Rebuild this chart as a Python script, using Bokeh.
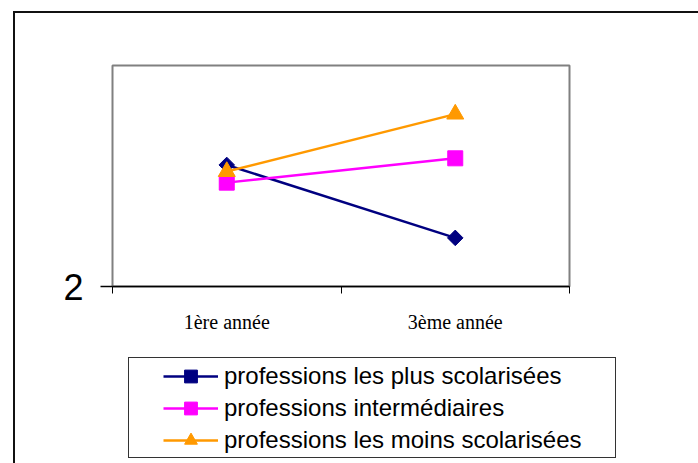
import numpy as np
from bokeh.plotting import figure
from bokeh.layouts import column
from bokeh.models import FixedTicker, Range1d, Legend, LegendItem, InlineStyleSheet
from bokeh.embed import file_html
from bokeh.resources import INLINE

categories = ["1ère année", "3ème année"]
x_pos = [0.5, 1.5]
x_bounds = [0, 1, 2]
series_names = ["professions les plus scolarisées",
                "professions intermédiaires",
                "professions les moins scolarisées"]
plus = [2.55, 2.22]
inter = [2.47, 2.58]
moins = [2.52, 2.78]
y_ticks = [2]
colors = ["#000080", "#FF00FF", "#FF9900"]

css = """
:host::before {
  content: ""; position: absolute; left: 13px; top: 11px;
  width: 685px; height: 452px; box-sizing: border-box;
  border-left: 2px solid #111; border-top: 2px solid #111;
  pointer-events: none; z-index: 5;
}
:host::after {
  content: ""; position: absolute; left: 128px; top: 357px;
  width: 488px; height: 101px; box-sizing: border-box;
  border: 1px solid #333;
  pointer-events: none; z-index: 5;
}
"""

p = figure(frame_width=457, frame_height=221, output_backend="svg", toolbar_location=None,
           x_range=Range1d(0, 2), y_range=Range1d(2, 3),
           min_border_left=112, min_border_top=65,
           min_border_right=129, min_border_bottom=66,
           stylesheets=[InlineStyleSheet(css=css)])

p.xgrid.visible = False
p.ygrid.visible = False
p.outline_line_color = "#808080"
p.outline_line_width = 2
p.background_fill_color = "white"
p.border_fill_color = "white"

# x axis
p.xaxis.ticker = FixedTicker(ticks=x_pos, minor_ticks=x_bounds)
p.xaxis.major_label_overrides = {x: c for x, c in zip(x_pos, categories)}
p.xaxis.major_tick_out = 0
p.xaxis.major_tick_in = 0
p.xaxis.minor_tick_out = 7
p.xaxis.minor_tick_in = 0
p.xaxis.minor_tick_line_color = "black"
p.xaxis.axis_line_color = "black"
p.xaxis.axis_line_width = 1.5
p.xaxis.major_label_text_font = "Liberation Serif"
p.xaxis.major_label_text_font_size = "20px"
p.xaxis.major_label_text_color = "black"
p.xaxis.major_label_standoff = 17

# y axis
p.yaxis.ticker = FixedTicker(ticks=y_ticks, minor_ticks=[])
p.yaxis.axis_line_color = None
p.yaxis.major_tick_out = 12
p.yaxis.major_tick_in = 0
p.yaxis.major_tick_line_color = "black"
p.yaxis.major_tick_line_width = 1.5
p.yaxis.major_label_text_font = "Liberation Sans"
p.yaxis.major_label_text_font_size = "36px"
p.yaxis.major_label_text_color = "black"
p.yaxis.major_label_standoff = 17

markers = [("square", np.pi / 4, 11), ("square", 0, 15), ("triangle", 0, 17)]
for vals, col, (mk, ang, sz) in zip([plus, inter, moins], colors, markers):
    p.line(x_pos, vals, line_color=col, line_width=2.5)
    p.scatter(x_pos, vals, marker=mk, angle=ang, size=sz,
              fill_color=col, line_color=col)

# legend panel: same series, drawn outside its visible range so only the legend shows
p2 = figure(frame_width=504, frame_height=101, output_backend="svg", toolbar_location=None,
            x_axis_location=None, y_axis_location=None,
            x_range=Range1d(0, 2), y_range=Range1d(0, 1),
            min_border_left=112, min_border_right=82,
            min_border_top=5, min_border_bottom=5)
p2.xgrid.visible = False
p2.ygrid.visible = False
p2.outline_line_color = None
p2.background_fill_color = None
p2.border_fill_color = None

items = []
for name, vals, col, (mk, ang, sz) in zip(series_names, [plus, inter, moins], colors, markers):
    lr = p2.line(x_pos, vals, line_color=col, line_width=2.5)
    sr = p2.scatter(x_pos, vals, marker=mk, angle=ang, size=sz,
                    fill_color=col, line_color=col)
    items.append(LegendItem(label=name, renderers=[lr, sr]))

legend = Legend(items=items, location=(48, -1), orientation="vertical",
                border_line_alpha=0, background_fill_alpha=0,
                padding=3, spacing=0, margin=0,
                glyph_width=55, glyph_height=32, label_height=32,
                label_standoff=6,
                label_text_font="Liberation Sans", label_text_font_size="24px",
                label_text_color="black")
p2.add_layout(legend)

layout = column(p, p2, spacing=0)
open("out.html", "w").write(file_html(layout, INLINE))
